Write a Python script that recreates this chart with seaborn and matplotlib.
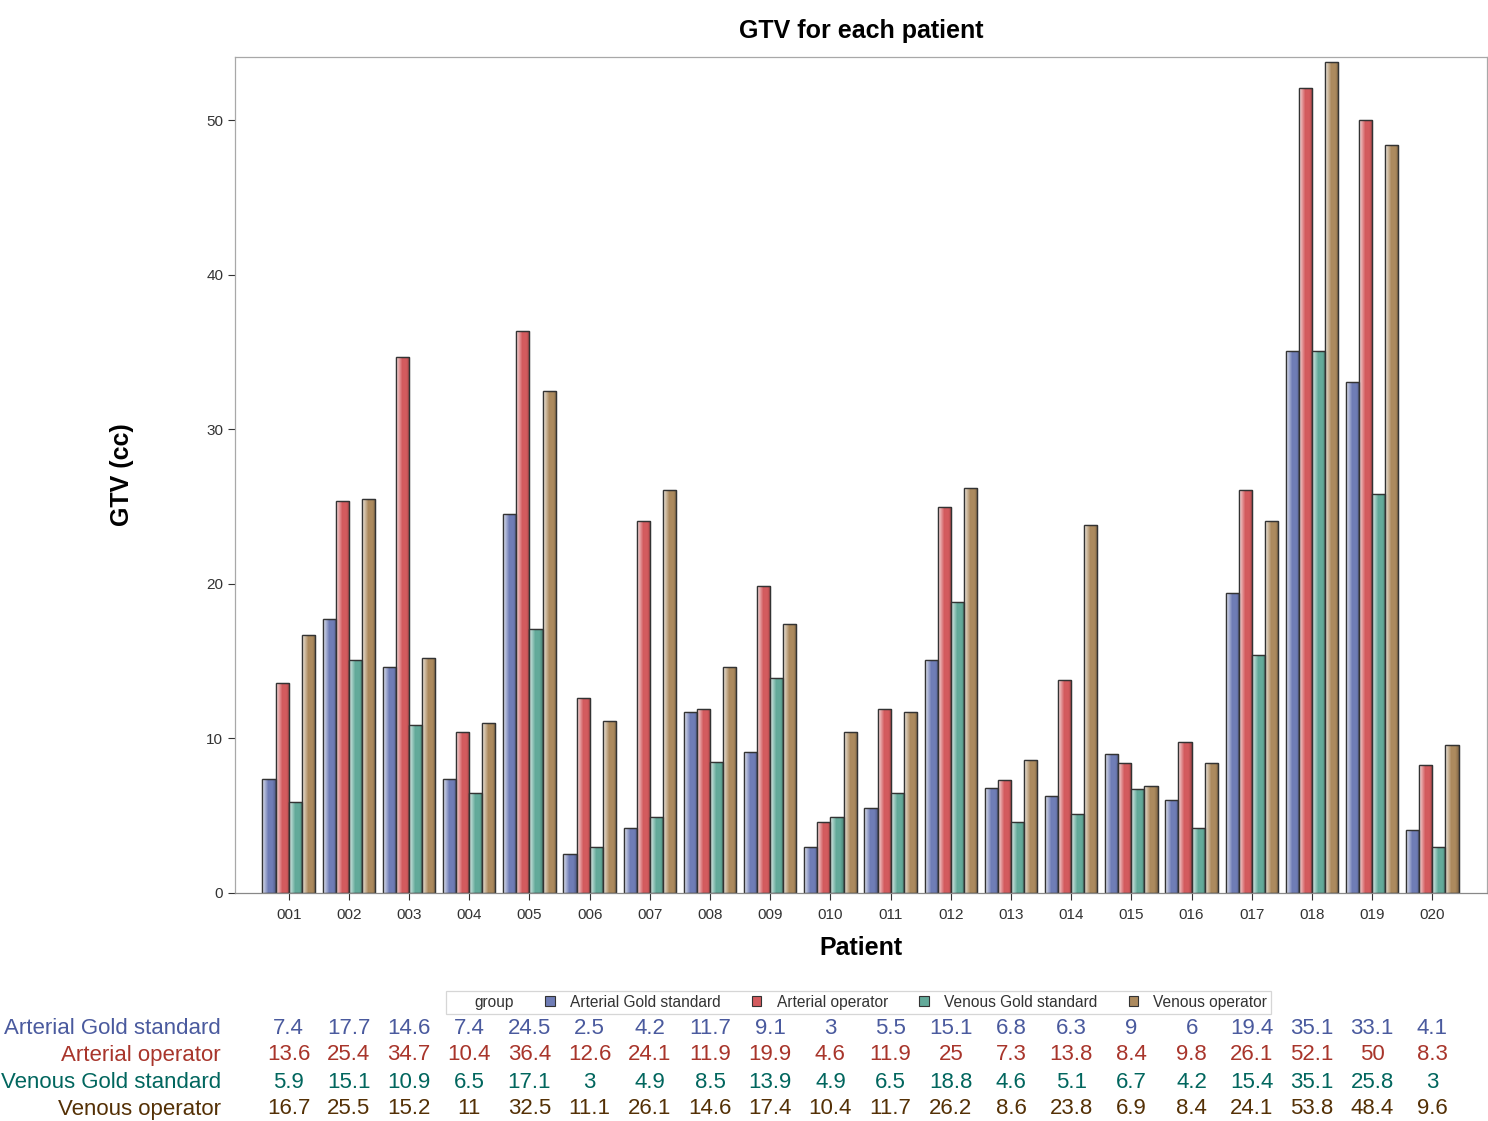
import numpy as np
import pandas as pd
import matplotlib
matplotlib.use("Agg")
import matplotlib.pyplot as plt
import matplotlib.transforms as mtransforms
from matplotlib.patches import Rectangle
import seaborn as sns

# data
patients = ["001", "002", "003", "004", "005", "006", "007", "008", "009", "010",
            "011", "012", "013", "014", "015", "016", "017", "018", "019", "020"]
groups = ["Arterial Gold standard", "Arterial operator",
          "Venous Gold standard", "Venous operator"]
arterial_gold = [7.4, 17.7, 14.6, 7.4, 24.5, 2.5, 4.2, 11.7, 9.1, 3,
                 5.5, 15.1, 6.8, 6.3, 9, 6, 19.4, 35.1, 33.1, 4.1]
arterial_op = [13.6, 25.4, 34.7, 10.4, 36.4, 12.6, 24.1, 11.9, 19.9, 4.6,
               11.9, 25, 7.3, 13.8, 8.4, 9.8, 26.1, 52.1, 50, 8.3]
venous_gold = [5.9, 15.1, 10.9, 6.5, 17.1, 3, 4.9, 8.5, 13.9, 4.9,
               6.5, 18.8, 4.6, 5.1, 6.7, 4.2, 15.4, 35.1, 25.8, 3]
venous_op = [16.7, 25.5, 15.2, 11, 32.5, 11.1, 26.1, 14.6, 17.4, 10.4,
             11.7, 26.2, 8.6, 23.8, 6.9, 8.4, 24.1, 53.8, 48.4, 9.6]

bar_colors = ["#6F7DB6", "#D35B5E", "#63AA9A", "#AC8A5E"]
text_colors = ["#4A5A9E", "#A8352B", "#01665E", "#543005"]

series = [arterial_gold, arterial_op, venous_gold, venous_op]
df = pd.DataFrame({
    "patient": np.repeat([patients], 4, axis=0).ravel(),
    "group": np.repeat(groups, len(patients)),
    "gtv": np.concatenate(series),
})

sns.set_theme(style="white")
plt.rcParams["font.family"] = ["Liberation Sans", "DejaVu Sans"]

fig = plt.figure(figsize=(14.88, 11.21), dpi=100)
ax = fig.add_axes([0.158, 0.2034, 0.841, 0.7457])

sns.barplot(data=df, x="patient", y="gtv", hue="group", hue_order=groups,
            palette=bar_colors, width=0.87, edgecolor="#333333", linewidth=0.9,
            saturation=1, ax=ax, legend=False)

# light-to-dark sheen across each bar, like the original skin
sheen = np.zeros((1, 64, 4))
u = np.linspace(0, 1, 64)
white_a = np.clip(1 - u / 0.45, 0, 1) * 0.8
dark_a = np.clip((u - 0.75) / 0.25, 0, 1) * 0.25
sheen[0, :, :3] = np.where((white_a > 0)[:, None], 1.0, 0.0)
sheen[0, :, 3] = white_a + dark_a
for p in list(ax.patches):
    x0, y0 = p.get_x(), p.get_y()
    w, h = p.get_width(), p.get_height()
    if h <= 0:
        continue
    im = ax.imshow(sheen, extent=(x0, x0 + w, y0, y0 + h), aspect="auto",
                   interpolation="bilinear", zorder=p.get_zorder() + 0.1)
    im.set_clip_path(p)
    ax.add_patch(Rectangle((x0, y0), w, h, fill=False, edgecolor="#333333",
                           linewidth=0.9, zorder=p.get_zorder() + 0.2))

ax.set_xlim(-0.89, 19.9)
ax.set_ylim(0, 54.1)
ax.set_yticks([0, 10, 20, 30, 40, 50])
ax.tick_params(axis="both", labelsize=11, colors="#333333", length=5,
               width=0.8, direction="out", bottom=True, left=True)
ax.tick_params(axis="x", pad=6)
for s in ax.spines.values():
    s.set_color("#A8A8A8")
    s.set_linewidth(0.9)
ax.spines["bottom"].set_color("#888888")

ax.set_title("GTV for each patient", fontsize=18, fontweight="bold", pad=14,
             color="black")
ax.set_xlabel("Patient", fontsize=18, fontweight="bold", labelpad=10,
              color="black")
ax.set_ylabel("GTV (cc)", fontsize=18, fontweight="bold", labelpad=52,
              color="black")

# legend row with leading "group" label
handles = [Rectangle((0, 0), 1, 1, alpha=0)]
labels = ["group"]
for c, g in zip(bar_colors, groups):
    handles.append(Rectangle((0, 0), 1, 1, facecolor=c, edgecolor="#333333", lw=0.8))
    labels.append(g)
leg = fig.legend(handles, labels, loc="center", bbox_to_anchor=(0.577, 0.106),
                 ncol=5, frameon=True, fontsize=11.2, handlelength=0.6,
                 handleheight=0.6, handletextpad=1.0, columnspacing=2.0,
                 borderpad=0.25, fancybox=False)
leg.get_frame().set_edgecolor("#CCCCCC")
leg.get_frame().set_linewidth(0.9)
for t in leg.get_texts():
    t.set_color("#333333")

# data table under the chart
trans = mtransforms.blended_transform_factory(ax.transData, fig.transFigure)
row_y = [1 - 1028 / 1121, 1 - 1055 / 1121, 1 - 1082 / 1121, 1 - 1109 / 1121]
for g, vals, col, y in zip(groups, series, text_colors, row_y):
    fig.text(221 / 1488, y, g, ha="right", va="center", fontsize=16, color=col)
    for i, v in enumerate(vals):
        ax.text(i, y, f"{v:g}", transform=trans, ha="center", va="center",
                fontsize=16, color=col, clip_on=False)

fig.savefig("out.png", dpi=100)
